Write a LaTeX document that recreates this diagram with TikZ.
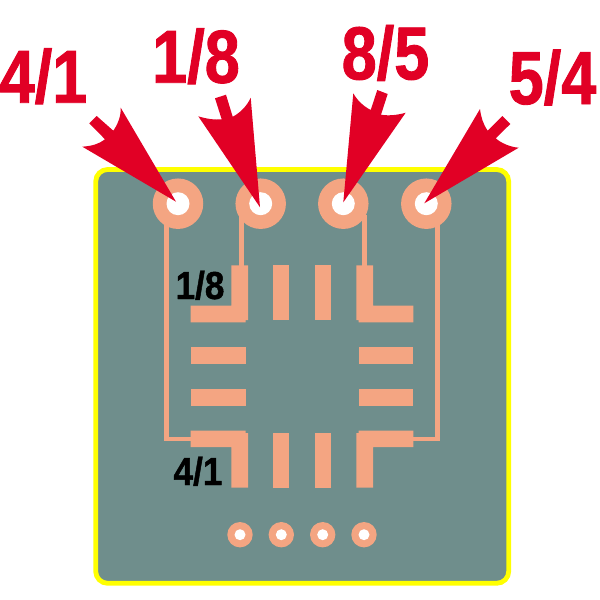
\documentclass[tikz,border=0pt]{standalone}
\usepackage{fontspec}
\setmainfont{Liberation Sans}[BoldFeatures={FakeStretch=0.9,FakeBold=1.2}]
\newfontfamily\redfont{Liberation Sans}[BoldFeatures={FakeStretch=0.84,FakeBold=1.2}]
\definecolor{boardc}{HTML}{6F8E8C}
\definecolor{padc}{HTML}{F4A582}
\definecolor{redc}{HTML}{E10025}
\definecolor{yellowc}{HTML}{FFFF00}
\tikzset{
  board/.style={draw=yellowc,line width=4.8pt,fill=boardc,rounded corners=12pt},
  pad/.style={fill=padc,draw=none},
  trace/.style={draw=padc,line width=4.6pt},
  bigvia/.style={circle,fill=padc,draw=none,minimum size=50.5pt,inner sep=0pt},
  bighole/.style={circle,fill=white,draw=none,minimum size=23pt,inner sep=0pt},
  smallvia/.style={circle,fill=padc,draw=none,minimum size=25.4pt,inner sep=0pt},
  smallhole/.style={circle,fill=white,draw=none,minimum size=11pt,inner sep=0pt},
  arrowshape/.style={fill=redc,draw=none},
  redlabel/.style={text=redc,font=\fontsize{75}{75}\redfont\bfseries,inner sep=0pt,anchor=base},
  blacklabel/.style={text=black,font=\fontsize{39}{39}\selectfont\bfseries,inner sep=0pt,anchor=base},
}
\begin{document}
\begin{tikzpicture}[x=1pt,y=-1pt]
\useasboundingbox (0,0) rectangle (600,600);
\draw[board] (95.7,169.5) rectangle (508.7,583.3);
% traces
\coordinate (t1a) at (166.3,215);
\coordinate (t1b) at (195,439);
\coordinate (t2a) at (241.4,215);
\coordinate (t2b) at (241.4,270);
\coordinate (t3a) at (364.7,215);
\coordinate (t3b) at (364.7,270);
\coordinate (t4a) at (437.7,215);
\coordinate (t4b) at (410,439);
\draw[trace] (t1a) |- (t1b);
\draw[trace] (t2a) -- (t2b);
\draw[trace] (t3a) -- (t3b);
\draw[trace] (t4a) |- (t4b);
% large vias
\foreach \n/\x in {1/178,2/260.7,3/343.3,4/426.3}{
  \node[bigvia] (via\n) at (\x,203.7) {};
  \node[bighole] (hole\n) at (\x,203.7) {};
}
% small vias
\foreach \n/\x in {1/240,2/281.3,3/322.7,4/364}{
  \node[smallvia] (svia\n) at (\x,534.7) {};
  \node[smallhole] (shole\n) at (\x,534.7) {};
}
% left pads
\fill[pad] (190.7,305.7) -- (231.3,305.7) -- (231.3,265.3) -- (248,265.3) -- (248,320) -- (245.7,320) -- (245.7,322.3) -- (190.7,322.3) -- cycle;
\fill[pad] (190.7,347.3) rectangle (245.7,363.7);
\fill[pad] (190.7,389) rectangle (245.7,405.7);
\fill[pad] (190.7,447) -- (231.3,447) -- (231.3,487.7) -- (248,487.7) -- (248,433) -- (245.7,433) -- (245.7,430.7) -- (190.7,430.7) -- cycle;
% vertical pads
\fill[pad] (273,265.3) rectangle (289.3,320);
\fill[pad] (314.7,265.3) rectangle (331.3,320);
\fill[pad] (273,433) rectangle (289.3,487.7);
\fill[pad] (314.7,433) rectangle (331.3,487.7);
% right pads
\fill[pad] (413.3,305.7) -- (373,305.7) -- (373,265.3) -- (356.3,265.3) -- (356.3,320) -- (358.7,320) -- (358.7,322.3) -- (413.3,322.3) -- cycle;
\fill[pad] (358.7,347.3) rectangle (413.3,363.7);
\fill[pad] (358.7,389) rectangle (413.3,405.7);
\fill[pad] (413.3,447) -- (373,447) -- (373,487.7) -- (356.3,487.7) -- (356.3,433) -- (358.7,433) -- (358.7,430.7) -- (413.3,430.7) -- cycle;
% arrows
\fill[arrowshape] (176,201.7) -- (82.3,146.7) .. controls (92,146) and (99,144) .. (105,139.3) -- (89.3,123.3) -- (96.7,116) -- (113.3,130.7) .. controls (118,124) and (121,116) .. (120.7,107.7) -- cycle;
\fill[arrowshape] (260,207.3) -- (198.3,116.3) .. controls (207,119) and (215,120) .. (221.7,119.3) -- (215,98.3) -- (226,94.7) -- (232.7,116.7) .. controls (240,113) and (247,106) .. (250.7,97.7) -- cycle;
\fill[arrowshape] (343.3,202.3) -- (353.3,93.3) .. controls (357,100) and (363,106) .. (370.7,110) -- (377.3,90) -- (387.7,94) -- (381,114.7) .. controls (389,116) and (398,115) .. (405.7,112.7) -- cycle;
\fill[arrowshape] (424.3,203.3) -- (480,109) .. controls (481,117) and (483,124) .. (487.7,130.7) -- (502.3,116) -- (510.3,124) -- (495.7,138.3) .. controls (501,143) and (510,147) .. (518.7,147.7) -- cycle;
% labels
\node[redlabel] (lab1) at (43.5,102.7) {4/1};
\node[redlabel] (lab2) at (196,82.7) {1/8};
\node[redlabel] (lab3) at (385.5,79.3) {8/5};
\node[redlabel] (lab4) at (552.5,104) {5/4};
\node[blacklabel] (lab5) at (200,299) {1/8};
\node[blacklabel] (lab6) at (198,485) {4/1};
\end{tikzpicture}
\end{document}
